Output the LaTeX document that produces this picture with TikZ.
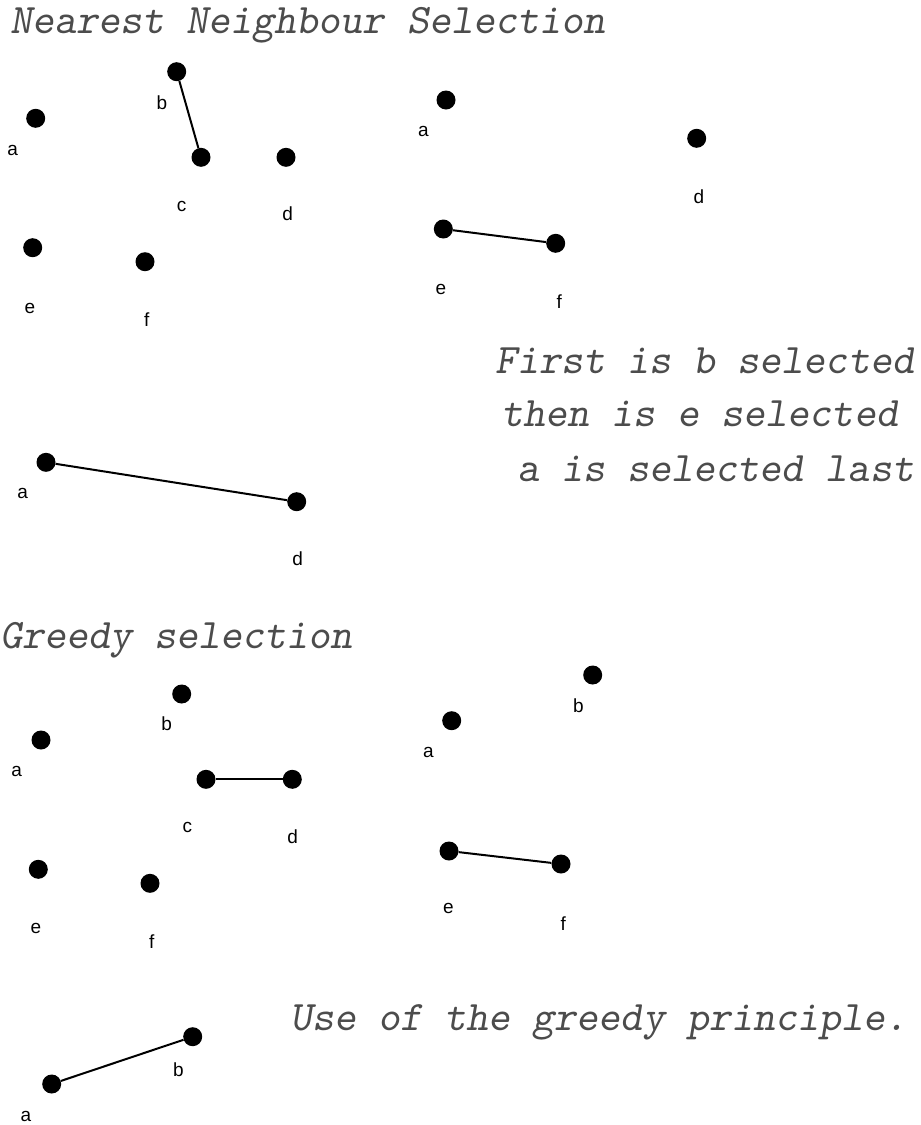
\documentclass[tikz,border=0pt]{standalone}
\usepackage{fontspec}
\newfontfamily\lblfont{Liberation Sans}
\tikzset{
  dot/.style={circle,fill=black,inner sep=0pt,minimum size=19pt},
  lbl/.style={font=\lblfont\fontsize{19}{19}\selectfont,inner sep=0pt},
  captext/.style={font=\ttfamily\slshape\fontsize{42}{42}\selectfont,text=black!70,anchor=base west,inner sep=0pt},
  link/.style={line width=2pt,black}
}
\begin{document}
\begin{tikzpicture}[x=1pt,y=-1pt]
\useasboundingbox[fill=white] (0,0) rectangle (921,1125);
% titles
\node[captext] (t1) at (10,33) {Nearest Neighbour Selection};
\node[captext] (t2) at (0,648) {Greedy selection};
\node[captext] (s1) at (495,373) {First is b selected};
\node[captext] (s2) at (501,426) {then is e selected};
\node[captext] (s3) at (517,481) {a is selected last};
\node[captext] (s4) at (290,1030) {Use of the greedy principle.};
% --- NN group 1
\node[dot] (A1) at (35.7,118.3) {}; \node[lbl] (lA1) at (12.7,150) {a};
\node[dot] (B1) at (176.7,71.7) {}; \node[lbl] (lB1) at (162,103) {b};
\node[dot] (C1) at (201,157.3) {}; \node[lbl] (lC1) at (181.7,206.7) {c};
\node[dot] (D1) at (286,157.3) {}; \node[lbl] (lD1) at (287.7,214) {d};
\node[dot] (E1) at (32.7,247.7) {}; \node[lbl] (lE1) at (30,308) {e};
\node[dot] (F1) at (145,261.7) {}; \node[lbl] (lF1) at (146.7,320) {f};
\draw[link] (B1) -- (C1);
% --- NN group 2
\node[dot] (A2) at (446,100) {}; \node[lbl] (lA2) at (423.3,131.7) {a};
\node[dot] (D2) at (696.7,138.3) {}; \node[lbl] (lD2) at (699,196.7) {d};
\node[dot] (E2) at (443.3,229) {}; \node[lbl] (lE2) at (441,289.3) {e};
\node[dot] (F2) at (555.7,243.3) {}; \node[lbl] (lF2) at (559.3,301.7) {f};
\draw[link] (E2) -- (F2);
% --- NN group 3
\node[dot] (A3) at (46,462.3) {}; \node[lbl] (lA3) at (22.7,493.3) {a};
\node[dot] (D3) at (296.7,501.7) {}; \node[lbl] (lD3) at (297.7,558.3) {d};
\draw[link] (A3) -- (D3);
% --- Greedy group 1
\node[dot] (A4) at (41,740) {}; \node[lbl] (lA4) at (16.7,771.7) {a};
\node[dot] (B4) at (181.7,694) {}; \node[lbl] (lB4) at (166.7,724) {b};
\node[dot] (C4) at (206,779.3) {}; \node[lbl] (lC4) at (187.3,827.3) {c};
\node[dot] (D4) at (292.3,779.3) {}; \node[lbl] (lD4) at (292.7,836.7) {d};
\node[dot] (E4) at (38.3,869.3) {}; \node[lbl] (lE4) at (36,928.3) {e};
\node[dot] (F4) at (150,883.3) {}; \node[lbl] (lF4) at (151.7,941.7) {f};
\draw[link] (C4) -- (D4);
% --- Greedy group 2
\node[dot] (A5) at (451.7,720.7) {}; \node[lbl] (lA5) at (428.3,752.7) {a};
\node[dot] (B5) at (592.7,675) {}; \node[lbl] (lB5) at (578.3,706) {b};
\node[dot] (E5) at (449,851) {}; \node[lbl] (lE5) at (448.3,908.3) {e};
\node[dot] (F5) at (561,864) {}; \node[lbl] (lF5) at (563.3,924) {f};
\draw[link] (E5) -- (F5);
% --- Greedy group 3
\node[dot] (A6) at (51.7,1084) {}; \node[lbl] (lA6) at (26,1116) {a};
\node[dot] (B6) at (192.7,1036.7) {}; \node[lbl] (lB6) at (178.3,1069.3) {b};
\draw[link] (A6) -- (B6);
\end{tikzpicture}
\end{document}
